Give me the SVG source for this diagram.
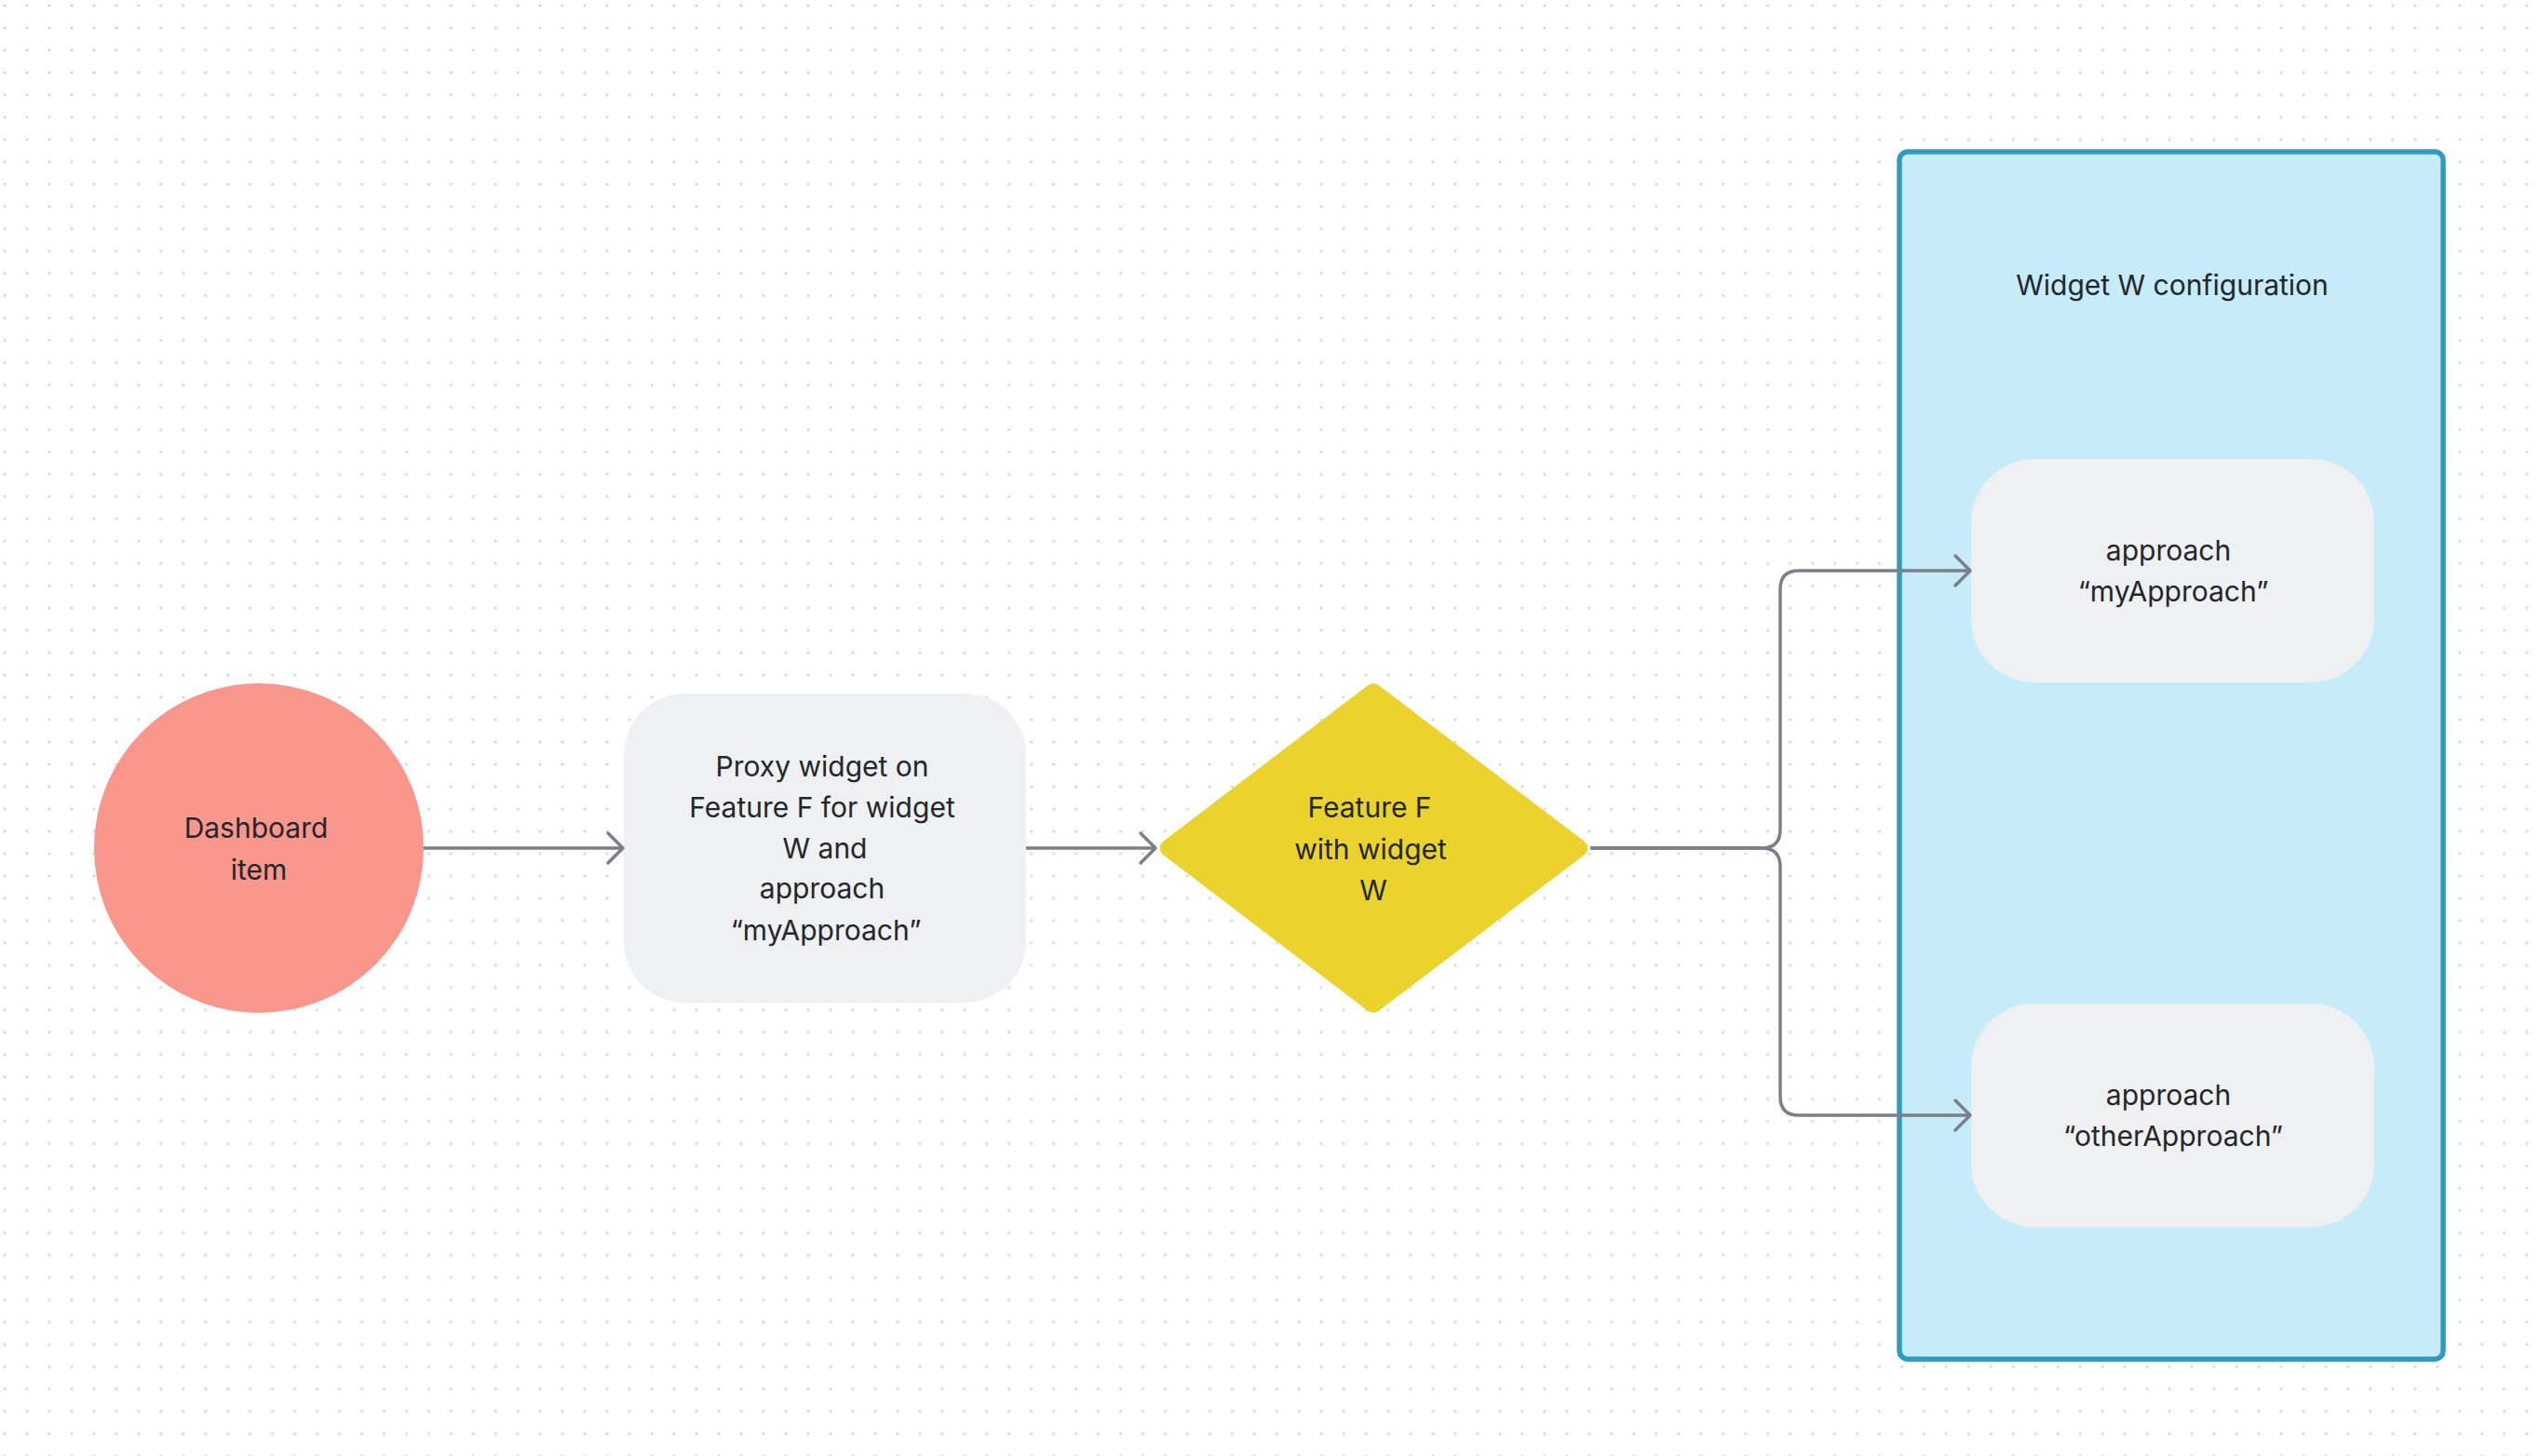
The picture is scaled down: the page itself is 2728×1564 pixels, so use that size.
<svg xmlns="http://www.w3.org/2000/svg" width="2728" height="1564" viewBox="0 0 2728 1564">
  <style>
    .lbl { font-family: Inter, "Noto Sans", "Liberation Sans", sans-serif; font-size: 30px; fill: #23262b; text-anchor: middle; }
    .conn { fill: none; stroke: #7b7f87; stroke-width: 3.5; stroke-linejoin: round; }
    .box { fill: #eff0f2; }
  </style>
  <defs>
    <pattern id="dots" x="5" y="6" width="23.97" height="23.97" patternUnits="userSpaceOnUse">
      <circle cx="0" cy="0" r="1.6" fill="#d6d6d6"/>
      <circle cx="23.97" cy="0" r="1.6" fill="#d6d6d6"/>
      <circle cx="0" cy="23.97" r="1.6" fill="#d6d6d6"/>
      <circle cx="23.97" cy="23.97" r="1.6" fill="#d6d6d6"/>
    </pattern>
    <marker id="arrow" markerUnits="userSpaceOnUse" markerWidth="40" markerHeight="40" viewBox="-20 -20 40 40" refX="0" refY="0" orient="auto">
      <path d="M-16,-16 L0,0 L-16,16" fill="none" stroke="#7b7f87" stroke-width="3.5" stroke-linecap="round" stroke-linejoin="round"/>
    </marker>
  </defs>

  <rect x="0" y="0" width="2728" height="1564" fill="#ffffff"/>
  <rect x="0" y="0" width="2728" height="1564" fill="url(#dots)"/>

  <g id="widget-config">
    <rect x="2040" y="163" width="584" height="1297" rx="9" fill="#c6ebf9" stroke="#2f9bc0" stroke-width="5.5"/>
    <text class="lbl" x="2333" y="317">Widget W configuration</text>
  </g>

  <g id="dashboard-item">
    <circle cx="278" cy="911" r="177" fill="#fa978d"/>
    <text class="lbl" x="275" y="900">Dashboard</text>
    <text class="lbl" x="278" y="945">item</text>
  </g>

  <g id="proxy-widget">
    <rect class="box" x="670" y="745" width="432" height="332" rx="66"/>
    <text class="lbl" x="883" y="834">Proxy widget on</text>
    <text class="lbl" x="883" y="878">Feature F for widget</text>
    <text class="lbl" x="886" y="922">W and</text>
    <text class="lbl" x="883" y="965">approach</text>
    <text class="lbl" x="887" y="1010">“myApproach”</text>
  </g>

  <g id="feature-f">
    <path d="M1468,737 Q1475,731 1482,737 L1702,904 Q1709,911 1702,918 L1482,1085 Q1475,1091 1468,1085 L1249,918 Q1242,911 1249,904 Z" fill="#ecd22c"/>
    <text class="lbl" x="1471" y="878">Feature F</text>
    <text class="lbl" x="1472" y="923">with widget</text>
    <text class="lbl" x="1475" y="967">W</text>
  </g>

  <g id="approach-my">
    <rect class="box" x="2117" y="493" width="433" height="240" rx="68"/>
    <text class="lbl" x="2329" y="602">approach</text>
    <text class="lbl" x="2334" y="646">“myApproach”</text>
  </g>

  <g id="approach-other">
    <rect class="box" x="2117" y="1078" width="433" height="240" rx="68"/>
    <text class="lbl" x="2329" y="1187">approach</text>
    <text class="lbl" x="2334" y="1231">“otherApproach”</text>
  </g>

  <g id="connectors">
    <path class="conn" d="M455,911 H669" marker-end="url(#arrow)"/>
    <path class="conn" d="M1102,911 H1241" marker-end="url(#arrow)"/>
    <path class="conn" d="M1708,911 H1892 Q1912,911 1912,891 V633 Q1912,613 1932,613 H2116" marker-end="url(#arrow)"/>
    <path class="conn" d="M1708,911 H1892 Q1912,911 1912,931 V1178 Q1912,1198 1932,1198 H2116" marker-end="url(#arrow)"/>
  </g>
</svg>
